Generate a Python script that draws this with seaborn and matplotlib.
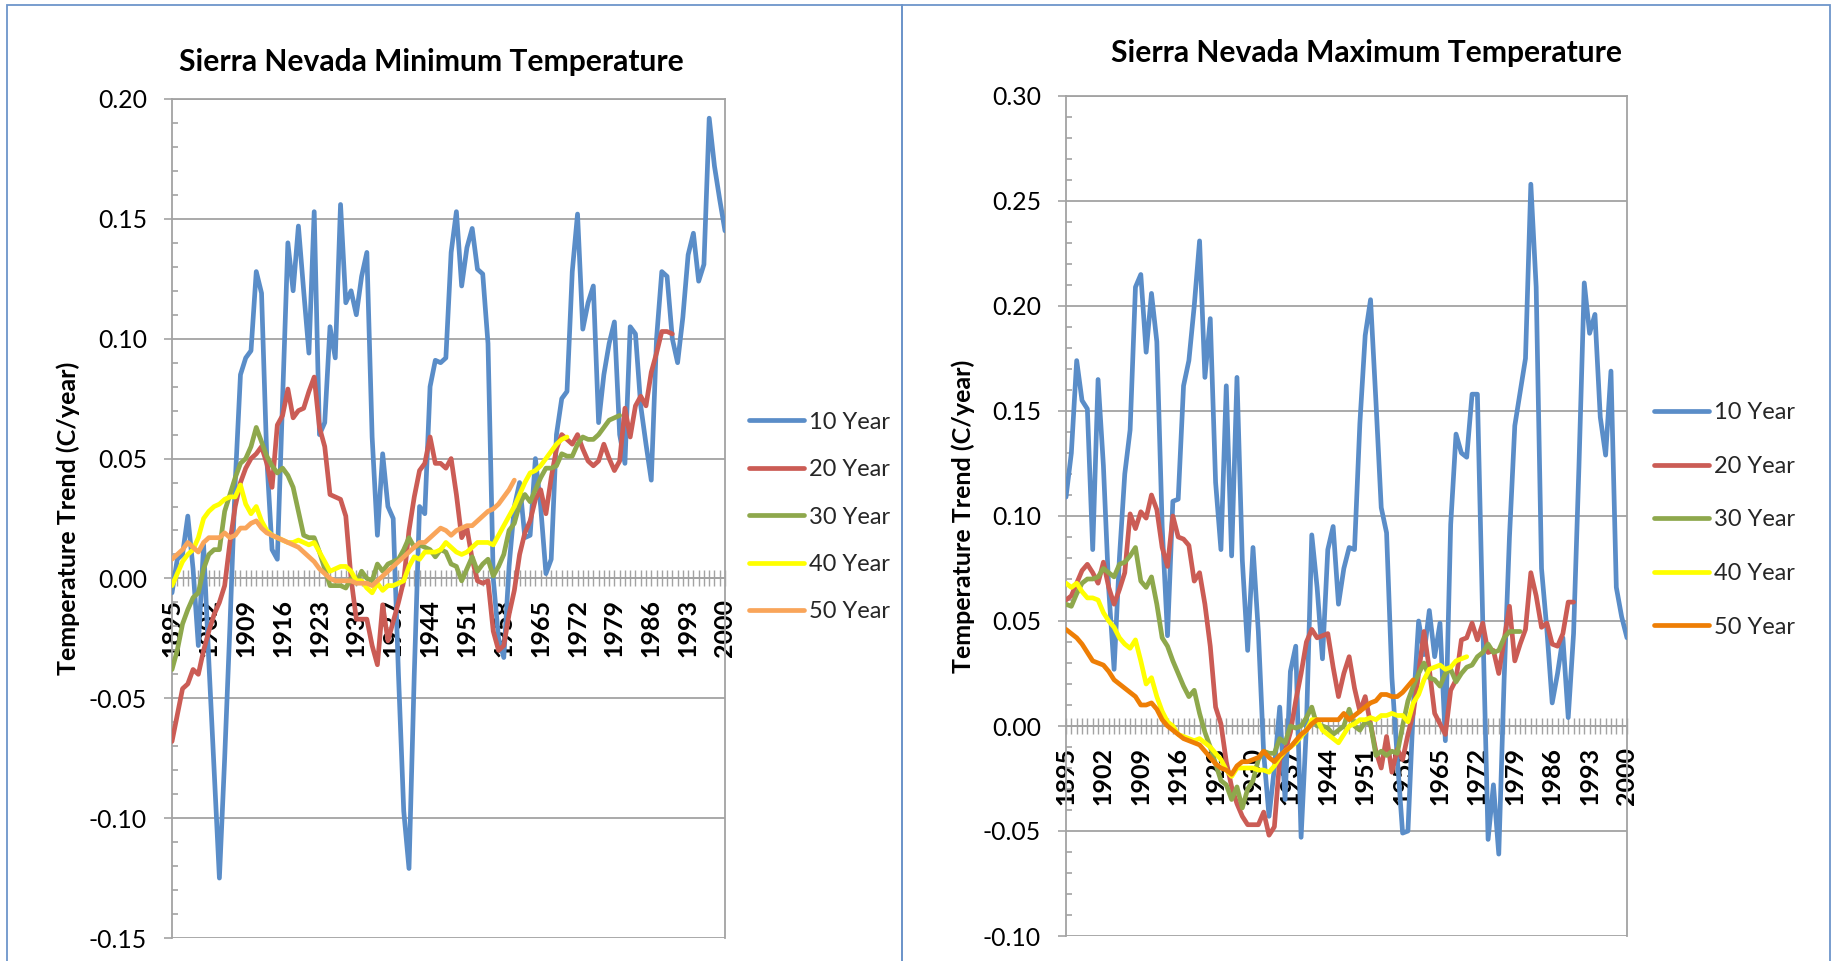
import numpy as np
import pandas as pd
import matplotlib
matplotlib.use("Agg")
import matplotlib.pyplot as plt
import seaborn as sns
from matplotlib.ticker import FixedLocator, FormatStrFormatter
from matplotlib.patches import Rectangle

# ---------------- data ----------------
years_all = list(range(1895, 2001))
x_tick_years = list(range(1895, 2001, 7))
x_tick_labels = [str(y) for y in x_tick_years]
series_names = ["10 Year", "20 Year", "30 Year", "40 Year", "50 Year"]

min_title = "Sierra Nevada Minimum Temperature"
max_title = "Sierra Nevada Maximum Temperature"
y_label = "Temperature Trend (C/year)"

min_y_ticks = [-0.15, -0.10, -0.05, 0.00, 0.05, 0.10, 0.15, 0.20]
max_y_ticks = [-0.10, -0.05, 0.00, 0.05, 0.10, 0.15, 0.20, 0.25, 0.30]

# Minimum temperature trends (start year 1895 ...)
min_10 = [-0.006, 0.008, 0.010, 0.026, 0.004,
          -0.028, 0.014, -0.035, -0.080, -0.125,
          -0.075, -0.020, 0.040, 0.085, 0.092,
          0.095, 0.128, 0.119, 0.050, 0.012,
          0.008, 0.075, 0.140, 0.120, 0.147,
          0.120, 0.094, 0.153, 0.060, 0.065,
          0.105, 0.092, 0.156, 0.115, 0.120,
          0.110, 0.126, 0.136, 0.059, 0.018,
          0.052, 0.030, 0.025, -0.040, -0.097,
          -0.121, -0.040, 0.030, 0.027, 0.080,
          0.091, 0.090, 0.092, 0.136, 0.153,
          0.122, 0.138, 0.146, 0.129, 0.127,
          0.098, 0.000, -0.025, -0.033, 0.005,
          0.030, 0.040, 0.017, 0.018, 0.050,
          0.030, 0.002, 0.008, 0.060, 0.075,
          0.078, 0.128, 0.152, 0.104, 0.115,
          0.122, 0.065, 0.085, 0.098, 0.107,
          0.060, 0.048, 0.105, 0.102, 0.072,
          0.056, 0.041, 0.100, 0.128, 0.126,
          0.100, 0.090, 0.109, 0.135, 0.144,
          0.124, 0.131, 0.192, 0.172, 0.158,
          0.145]
min_20 = [-0.068, -0.057, -0.046, -0.044, -0.038,
          -0.040, -0.030, -0.022, -0.015, -0.010,
          -0.003, 0.015, 0.030, 0.040, 0.046,
          0.050, 0.052, 0.055, 0.048, 0.038,
          0.064, 0.068, 0.079, 0.067, 0.070,
          0.071, 0.078, 0.084, 0.063, 0.055,
          0.035, 0.034, 0.033, 0.026, 0.000,
          -0.017, -0.017, -0.017, -0.028, -0.036,
          -0.011, -0.026, -0.018, -0.010, -0.001,
          0.020, 0.034, 0.045, 0.048, 0.059,
          0.048, 0.048, 0.046, 0.050, 0.035,
          0.017, 0.021, 0.008, -0.001, -0.002,
          -0.001, -0.022, -0.030, -0.028, -0.015,
          -0.005, 0.010, 0.019, 0.024, 0.033,
          0.037, 0.027, 0.042, 0.054, 0.060,
          0.058, 0.056, 0.060, 0.054, 0.049,
          0.047, 0.049, 0.056, 0.050, 0.045,
          0.049, 0.071, 0.059, 0.072, 0.076,
          0.072, 0.086, 0.094, 0.103, 0.103,
          0.102]
min_30 = [-0.038, -0.030, -0.019, -0.013, -0.008,
          -0.006, 0.004, 0.010, 0.012, 0.012,
          0.028, 0.035, 0.042, 0.048, 0.050,
          0.055, 0.063, 0.057, 0.051, 0.047,
          0.044, 0.046, 0.043, 0.038, 0.028,
          0.018, 0.017, 0.017, 0.011, 0.004,
          -0.003, -0.003, -0.003, -0.004, 0.000,
          -0.002, 0.003, 0.000, -0.001, 0.006,
          0.003, 0.006, 0.007, 0.008, 0.012,
          0.017, 0.013, 0.014, 0.013, 0.012,
          0.009, 0.012, 0.011, 0.006, 0.005,
          -0.001, 0.004, 0.009, 0.003, 0.006,
          0.008, 0.001, 0.005, 0.010, 0.020,
          0.023, 0.031, 0.035, 0.032, 0.037,
          0.042, 0.046, 0.046, 0.047, 0.052,
          0.051, 0.051, 0.056, 0.059, 0.058,
          0.058, 0.060, 0.063, 0.066, 0.067,
          0.068]
min_40 = [-0.003, 0.002, 0.007, 0.010, 0.012,
          0.017, 0.025, 0.028, 0.030, 0.031,
          0.033, 0.034, 0.034, 0.039, 0.031,
          0.027, 0.030, 0.024, 0.020, 0.018,
          0.017, 0.016, 0.015, 0.015, 0.016,
          0.015, 0.014, 0.015, 0.011, 0.007,
          0.003, 0.004, 0.005, 0.005, 0.003,
          -0.001, -0.001, -0.004, -0.006, -0.002,
          -0.005, -0.003, -0.003, -0.002, -0.001,
          0.005, 0.009, 0.008, 0.011, 0.011,
          0.011, 0.012, 0.015, 0.013, 0.011,
          0.010, 0.011, 0.013, 0.015, 0.015,
          0.015, 0.014, 0.018, 0.022, 0.026,
          0.030, 0.035, 0.040, 0.044, 0.045,
          0.047, 0.050, 0.053, 0.056, 0.058,
          0.059]
min_50 = [0.008, 0.010, 0.012, 0.015, 0.013,
          0.011, 0.015, 0.017, 0.017, 0.017,
          0.019, 0.017, 0.018, 0.021, 0.021,
          0.023, 0.024, 0.021, 0.019, 0.018,
          0.017, 0.016, 0.015, 0.014, 0.013,
          0.011, 0.009, 0.007, 0.004, 0.002,
          0.000, -0.001, -0.001, -0.001, -0.001,
          -0.002, -0.002, -0.002, -0.003, -0.001,
          0.001, 0.003, 0.005, 0.007, 0.009,
          0.011, 0.013, 0.015, 0.015, 0.017,
          0.019, 0.021, 0.020, 0.018, 0.020,
          0.021, 0.022, 0.022, 0.024, 0.026,
          0.028, 0.029, 0.031, 0.034, 0.037,
          0.041]

# Maximum temperature trends (start year 1895 ...)
max_10 = [0.109, 0.130, 0.174, 0.155, 0.151,
          0.084, 0.165, 0.124, 0.065, 0.027,
          0.080, 0.120, 0.141, 0.209, 0.215,
          0.178, 0.206, 0.183, 0.095, 0.043,
          0.107, 0.108, 0.162, 0.174, 0.200,
          0.231, 0.166, 0.194, 0.116, 0.084,
          0.162, 0.081, 0.166, 0.079, 0.036,
          0.085, 0.045, -0.013, -0.043, -0.020,
          0.009, -0.035, 0.026, 0.038, -0.053,
          0.000, 0.091, 0.066, 0.032, 0.084,
          0.095, 0.058, 0.075, 0.085, 0.084,
          0.144, 0.186, 0.203, 0.155, 0.104,
          0.092, 0.023, -0.015, -0.051, -0.050,
          0.009, 0.050, 0.034, 0.055, 0.033,
          0.049, -0.007, 0.096, 0.139, 0.130,
          0.128, 0.158, 0.158, 0.050, -0.054,
          -0.028, -0.061, 0.022, 0.090, 0.143,
          0.159, 0.175, 0.258, 0.209, 0.075,
          0.046, 0.011, 0.025, 0.042, 0.004,
          0.044, 0.123, 0.211, 0.187, 0.196,
          0.147, 0.129, 0.169, 0.066, 0.052,
          0.042]
max_20 = [0.060, 0.062, 0.068, 0.074, 0.077,
          0.073, 0.068, 0.078, 0.066, 0.058,
          0.065, 0.073, 0.101, 0.094, 0.102,
          0.099, 0.110, 0.103, 0.085, 0.076,
          0.100, 0.090, 0.089, 0.086, 0.069,
          0.073, 0.058, 0.038, 0.009, 0.001,
          -0.017, -0.029, -0.037, -0.043, -0.047,
          -0.047, -0.047, -0.041, -0.052, -0.048,
          -0.016, -0.012, -0.003, 0.012, 0.025,
          0.040, 0.046, 0.042, 0.043, 0.044,
          0.028, 0.014, 0.025, 0.033, 0.018,
          0.007, 0.014, 0.001, -0.012, -0.020,
          -0.005, -0.022, -0.011, -0.016, -0.004,
          0.006, 0.025, 0.045, 0.027, 0.006,
          0.001, -0.004, 0.017, 0.022, 0.041,
          0.042, 0.049, 0.041, 0.049, 0.035,
          0.036, 0.025, 0.041, 0.057, 0.031,
          0.039, 0.046, 0.073, 0.062, 0.047,
          0.049, 0.039, 0.038, 0.044, 0.059,
          0.059]
max_30 = [0.058, 0.057, 0.063, 0.068, 0.070,
          0.070, 0.071, 0.075, 0.073, 0.071,
          0.077, 0.078, 0.081, 0.085, 0.069,
          0.066, 0.071, 0.058, 0.042, 0.038,
          0.031, 0.025, 0.019, 0.014, 0.017,
          0.006, -0.003, -0.010, -0.018, -0.026,
          -0.028, -0.035, -0.029, -0.039, -0.030,
          -0.026, -0.016, -0.012, -0.013, -0.013,
          -0.006, -0.008, 0.000, -0.001, 0.000,
          0.004, 0.009, 0.000, 0.000, -0.001,
          -0.004, -0.002, 0.000, 0.008, 0.000,
          -0.002, 0.002, 0.001, -0.014, -0.012,
          -0.014, -0.012, -0.013, 0.000, 0.012,
          0.019, 0.025, 0.030, 0.023, 0.022,
          0.019, 0.025, 0.027, 0.021, 0.025,
          0.028, 0.029, 0.033, 0.035, 0.039,
          0.035, 0.036, 0.042, 0.045, 0.045,
          0.045]
max_40 = [0.068, 0.066, 0.068, 0.064, 0.061,
          0.061, 0.060, 0.054, 0.050, 0.047,
          0.042, 0.039, 0.037, 0.041, 0.031,
          0.020, 0.023, 0.014, 0.007, 0.002,
          0.000, -0.004, -0.005, -0.006, -0.007,
          -0.006, -0.008, -0.010, -0.013, -0.016,
          -0.021, -0.024, -0.020, -0.020, -0.020,
          -0.020, -0.021, -0.021, -0.022, -0.019,
          -0.015, -0.012, -0.010, -0.008, -0.005,
          -0.002, 0.003, 0.003, -0.002, -0.004,
          -0.006, -0.008, -0.004, 0.000, 0.001,
          0.003, 0.003, 0.004, 0.003, 0.005,
          0.005, 0.006, 0.005, 0.005, 0.002,
          0.011, 0.015, 0.022, 0.027, 0.028,
          0.029, 0.027, 0.028, 0.031, 0.032,
          0.033]
max_50 = [0.046, 0.044, 0.042, 0.039, 0.035,
          0.031, 0.030, 0.029, 0.026, 0.022,
          0.020, 0.018, 0.016, 0.014, 0.010,
          0.010, 0.011, 0.008, 0.003, 0.000,
          -0.002, -0.004, -0.006, -0.007, -0.008,
          -0.009, -0.012, -0.015, -0.018, -0.020,
          -0.021, -0.023, -0.019, -0.017, -0.017,
          -0.016, -0.015, -0.012, -0.015, -0.017,
          -0.014, -0.012, -0.010, -0.007, -0.004,
          -0.002, 0.001, 0.003, 0.003, 0.003,
          0.003, 0.003, 0.006, 0.003, 0.005,
          0.007, 0.009, 0.011, 0.012, 0.015,
          0.015, 0.014, 0.014, 0.016, 0.019,
          0.022]

# ---------------- style ----------------
XTICK_FS = 18
TICK_FS = 17.8
TITLE_FS = 21.6
YLAB_FS = 18
LEG_FS = 17
LINE_W = 3.4
GRID = "#a3a3a3"

sns.set_theme(style="white")
plt.rcParams["font.family"] = ["Lato", "DejaVu Sans"]
plt.rcParams["axes.unicode_minus"] = False
plt.rcParams["xtick.labelsize"] = XTICK_FS
plt.rcParams["ytick.labelsize"] = TICK_FS

W, H = 1833, 961
fig = plt.figure(figsize=(W / 100, H / 100), dpi=100)

colors_common = {"10 Year": "#5A8DC8", "20 Year": "#CB5C55",
                 "30 Year": "#8EA84C", "40 Year": "#FFFF00"}
pal_min = dict(colors_common, **{"50 Year": "#F9A55A"})
pal_max = dict(colors_common, **{"50 Year": "#EE7E05"})


def long_frame(series_lists):
    rows = []
    for name, vals in zip(series_names, series_lists):
        for i, v in enumerate(vals):
            rows.append((years_all[i], v, name))
    return pd.DataFrame(rows, columns=["Year", "Trend", "Window"])


def style_xlabels(ax):
    for lbl in ax.get_xticklabels():
        lbl.set_fontweight("bold")
        lbl.set_fontsize(XTICK_FS)
        lbl.set_rotation(90)


def draw_panel(rect, frame, palette, yticks, title, title_xy, leg_xy, leg_spacing):
    ax = fig.add_axes(rect)
    sns.lineplot(data=frame, x="Year", y="Trend", hue="Window",
                 hue_order=series_names, palette=palette, linewidth=LINE_W,
                 estimator=None, ax=ax, legend=True)
    for ln in ax.lines:
        ln.set_linewidth(LINE_W)
        ln.set_solid_capstyle("round")
        ln.set_solid_joinstyle("round")
        ln.set_zorder(3)

    ax.set_xlim(1895, 2000)
    ax.set_ylim(yticks[0], yticks[-1])
    ax.set_axisbelow(True)

    # spines first (moving the bottom spine resets the x ticks)
    ax.spines["bottom"].set_position(("data", 0))
    for s in ["left", "right", "top", "bottom"]:
        ax.spines[s].set_visible(True)
        ax.spines[s].set_color(GRID)
        ax.spines[s].set_linewidth(1.3)
    ax.spines["bottom"].set_zorder(1)

    # y axis
    ax.yaxis.set_major_locator(FixedLocator(yticks))
    minors = [round(v, 2) for v in np.arange(yticks[0], yticks[-1] + 0.001, 0.01)]
    minors = [v for v in minors if all(abs(v - t) > 1e-6 for t in yticks)]
    ax.yaxis.set_minor_locator(FixedLocator(minors))
    ax.yaxis.set_major_formatter(FormatStrFormatter("%.2f"))
    ax.tick_params(axis="y", which="major", direction="out", length=6,
                   width=1.2, color=GRID, pad=12, labelsize=TICK_FS,
                   labelcolor="black", left=True)
    ax.tick_params(axis="y", which="minor", direction="in", length=4.5,
                   width=1.2, color=GRID, left=True)
    ax.grid(axis="y", which="major", color=GRID, linewidth=1.3)
    ax.grid(axis="x", visible=False)

    # x axis (category axis crossing at zero)
    ax.xaxis.set_minor_locator(FixedLocator(years_all))
    ax.tick_params(axis="x", which="both", direction="inout", length=12,
                   width=1.0, color=GRID, bottom=True)
    ax.tick_params(axis="x", which="major", pad=9, labelsize=XTICK_FS,
                   labelcolor="black", labelrotation=90)
    ax.set_xticks(x_tick_years, labels=x_tick_labels)
    style_xlabels(ax)

    ax.set_xlabel("")
    ax.set_ylabel(y_label, fontsize=YLAB_FS, fontweight="bold", color="black")
    ax.yaxis.label.set_va("center")

    handles, labels = ax.get_legend_handles_labels()
    for h in handles:
        h.set_linewidth(LINE_W)
        h.set_solid_capstyle("round")
    leg = ax.legend(handles, labels, loc="center left",
                    bbox_to_anchor=(leg_xy[0] / W, 1 - leg_xy[1] / H),
                    bbox_transform=fig.transFigure, frameon=False,
                    fontsize=LEG_FS, handlelength=2.35, handletextpad=0.2,
                    labelspacing=leg_spacing, borderpad=0, borderaxespad=0)
    for lh in leg.get_lines():
        lh.set_linewidth(LINE_W)
        lh.set_solid_capstyle("round")

    fig.text(title_xy[0] / W, 1 - title_xy[1] / H, title, ha="center",
             va="center", fontsize=TITLE_FS, fontweight="bold", color="black")
    return ax


df_min = long_frame([min_10, min_20, min_30, min_40, min_50])
df_max = long_frame([max_10, max_20, max_30, max_40, max_50])

ax1 = draw_panel([172 / W, 1 - 938 / H, 553 / W, 839 / H], df_min, pal_min,
                 min_y_ticks, min_title, (431, 62), (749, 517), 1.12)
ax1.yaxis.set_label_coords((68 - 172) / 553, 0.5)

ax2 = draw_panel([1066 / W, 1 - 936 / H, 561 / W, 840 / H], df_max, pal_max,
                 max_y_ticks, max_title, (1367, 53), (1654, 520), 1.38)
ax2.yaxis.set_label_coords((963 - 1066) / 561, 0.5)

# panel borders
for x0, x1 in [(7, 902), (902, 1830)]:
    fig.add_artist(Rectangle((x0 / W, -0.05), (x1 - x0) / W, 1.05 - 5 / H,
                             transform=fig.transFigure, fill=False,
                             edgecolor="#6D95CA", linewidth=1.3))

fig.canvas.draw()
style_xlabels(ax1)
style_xlabels(ax2)
fig.savefig("out.png", dpi=100)
